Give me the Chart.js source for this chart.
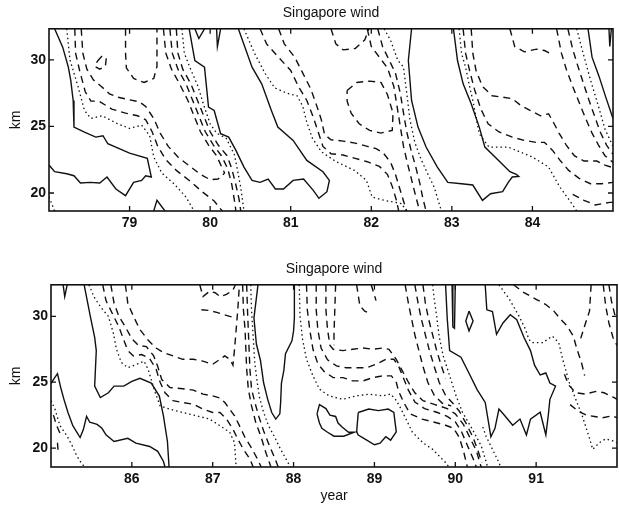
<!DOCTYPE html>
<html>
<head>
<meta charset="utf-8">
<script src="https://cdn.jsdelivr.net/npm/chart.js@4.4.0/dist/chart.umd.min.js"></script>
<style>
  html, body { margin: 0; padding: 0; background: #fff; }
  #wrap { position: relative; width: 619px; height: 505px; }
  canvas { position: absolute; left: 0; }
</style>
</head>
<body>
<div id="wrap">
  <canvas id="chart-top" width="619" height="250" style="top:0"></canvas>
  <canvas id="chart-bottom" width="619" height="255" style="top:250px"></canvas>
</div>
<script>
// tick values
const topYears = [79, 80, 81, 82, 83, 84];
const bottomYears = [86, 87, 88, 89, 90, 91];
const kmTicks = [20, 25, 30];

// contour lines, each one a list of [year, km] points
// upper panel (1978-1985)
const topSolid = [
  [[78.07,32.33],[78.17,30.95],[78.24,29.45],[78.27,28.45],[78.3,26.95],[78.31,24.95],[78.44,24.57],[78.58,24.2],[78.67,24.3],[78.73,23.7],[79.0,23.0],[79.22,22.6],[79.27,21.2],[79.2,21.3],[79.15,20.95],[79.05,20.8],[78.95,19.8],[78.83,20.3],[78.72,21.2],[78.63,20.75],[78.51,20.8],[78.39,20.75],[78.31,21.3],[78.22,21.45],[78.07,21.6],[78.0,22.1]],
  [[79.74,32.33],[79.81,29.95],[79.93,29.45],[79.98,26.45],[80.05,26.2],[80.13,24.45],[80.23,24.2],[80.32,23.2],[80.42,21.95],[80.52,20.95],[80.62,20.8],[80.72,21.05],[80.81,20.3],[80.91,20.3],[81.03,20.95],[81.16,21.05],[81.28,20.2],[81.35,19.6],[81.45,20.1],[81.48,20.95],[81.4,21.6],[81.2,22.45],[81.03,23.95],[80.84,24.95],[80.76,26.2],[80.64,28.2],[80.52,29.45],[80.35,32.33]],
  [[82.5,32.33],[82.46,29.95],[82.5,26.95],[82.58,24.95],[82.68,23.45],[82.82,21.95],[82.95,20.8],[83.12,20.7],[83.26,20.6],[83.38,19.45],[83.48,19.95],[83.63,20.1],[83.7,20.8],[83.75,21.2],[83.83,21.25],[83.8,21.4],[83.72,21.6],[83.58,22.45],[83.41,23.45],[83.34,24.95],[83.24,26.7],[83.14,28.2],[83.07,29.95],[83.02,32.33]],
  [[84.69,32.33],[84.74,30.2],[84.83,28.7],[84.91,27.2],[84.98,25.95],[85.0,25.6]],
  [[79.81,32.33],[79.86,31.6],[79.93,32.33]],
  [[80.08,32.33],[80.09,31.0],[80.13,32.33]],
  [[84.95,32.33],[84.96,31.0],[84.98,32.33]],
  [[79.3,18.65],[79.34,19.45],[79.44,18.65]]
];
const topDashed = [
  [[78.32,32.33],[78.33,30.5],[78.38,29.2],[78.45,27.6],[78.52,26.9],[78.62,26.9],[78.78,26.3],[78.95,26.0],[79.1,25.8],[79.2,25.5],[79.28,24.6],[79.35,23.5],[79.45,22.5],[79.58,21.7],[79.75,20.9],[79.9,20.1],[80.05,19.4],[80.15,18.65]],
  [[78.4,32.33],[78.42,30.5],[78.47,29.3],[78.55,28.5],[78.65,28.0],[78.75,27.45],[78.85,27.2],[79.0,27.0],[79.12,26.85],[79.2,26.5],[79.3,25.6],[79.38,24.5],[79.48,23.5],[79.6,22.7],[79.75,22.0],[79.88,21.4],[80.0,21.0],[80.1,21.05],[80.18,21.5]],
  [[78.95,32.33],[78.95,30.5],[78.96,29.4],[79.05,28.6],[79.18,28.3],[79.3,28.6],[79.34,29.5],[79.34,32.33]],
  [[78.6,29.9],[78.66,30.3],[78.71,30.1],[78.7,29.5],[78.63,29.3],[78.57,29.5],[78.6,29.9]],
  [[79.42,32.33],[79.45,30.5],[79.52,29.3],[79.62,28.2],[79.72,27.0],[79.8,25.8],[79.88,24.6],[79.98,23.6],[80.08,22.8],[80.14,22.0],[80.18,21.5]],
  [[79.5,32.33],[79.53,30.5],[79.6,29.3],[79.7,28.2],[79.78,27.0],[79.86,25.8],[79.94,24.6],[80.04,23.6],[80.14,22.8],[80.22,21.8],[80.27,20.6],[80.3,19.5],[80.32,18.65]],
  [[79.58,32.33],[79.6,30.5],[79.66,29.3],[79.76,28.2],[79.84,27.0],[79.92,25.8],[80.0,24.6],[80.1,23.6],[80.21,22.8],[80.27,21.8],[80.32,20.6],[80.36,19.5],[80.38,18.65]],
  [[80.62,32.33],[80.7,31.2],[80.81,30.45],[81.0,29.2],[81.1,27.95],[81.2,26.95],[81.28,25.7],[81.34,24.6],[81.4,23.5],[81.5,22.95],[81.65,22.85],[81.8,22.6],[81.95,22.35],[82.1,22.0],[82.2,21.4],[82.26,20.5],[82.31,19.5],[82.34,18.65]],
  [[80.85,32.33],[80.92,31.2],[81.05,30.2],[81.15,29.0],[81.25,27.8],[81.32,26.6],[81.38,25.5],[81.42,24.4],[81.5,24.0],[81.65,23.9],[81.8,23.75],[81.95,23.5],[82.06,23.33],[82.15,23.0],[82.24,22.3],[82.3,21.4],[82.35,20.4],[82.4,19.4],[82.44,18.65]],
  [[81.5,32.33],[81.56,31.2],[81.65,30.75],[81.8,30.85],[81.92,31.5],[81.97,32.33]],
  [[81.7,27.7],[81.82,28.3],[81.98,28.4],[82.12,28.3],[82.2,27.4],[82.27,26.0],[82.26,24.7],[82.12,24.5],[81.98,24.7],[81.85,25.2],[81.75,26.0],[81.7,26.9],[81.7,27.7]],
  [[81.95,32.33],[82.0,31.0],[82.1,30.2],[82.2,29.4],[82.28,28.0],[82.32,26.5],[82.36,25.0],[82.4,23.5],[82.45,22.2],[82.5,21.0],[82.55,19.8],[82.6,18.65]],
  [[82.08,32.33],[82.14,31.0],[82.22,30.0],[82.3,29.0],[82.36,27.5],[82.4,26.0],[82.44,24.6],[82.49,23.3],[82.55,22.0],[82.6,20.8],[82.64,19.6],[82.68,18.65]],
  [[83.14,32.33],[83.17,30.5],[83.22,29.2],[83.28,27.8],[83.36,26.3],[83.45,25.2],[83.58,24.6],[83.75,24.2],[83.9,23.95],[84.05,23.8],[84.15,23.8],[84.25,23.2],[84.35,22.4],[84.45,21.7],[84.58,21.1],[84.72,20.7],[84.86,20.7],[85.0,20.8]],
  [[83.24,32.33],[83.26,30.5],[83.3,29.2],[83.38,28.0],[83.5,27.3],[83.63,27.2],[83.75,27.08],[83.85,26.6],[83.97,26.2],[84.1,25.8],[84.2,25.95],[84.27,25.2],[84.33,24.5],[84.42,23.6],[84.52,22.8],[84.64,22.4],[84.8,22.4],[84.9,22.1],[85.0,21.9]],
  [[83.72,32.33],[83.78,31.0],[83.9,30.6],[84.05,30.8],[84.15,30.7],[84.25,30.4]],
  [[84.3,32.33],[84.36,30.5],[84.42,29.3],[84.5,28.0],[84.58,26.8],[84.66,25.6],[84.74,24.5],[84.82,23.6],[84.9,22.8],[85.0,22.3]],
  [[84.44,32.33],[84.5,30.8],[84.56,29.6],[84.63,28.3],[84.7,27.0],[84.77,25.8],[84.84,24.6],[84.92,23.6],[85.0,22.9]],
  [[84.5,19.9],[84.64,19.45],[84.78,19.1],[84.96,19.3],[85.0,19.3]]
];
const topDotted = [
  [[78.0,19.7],[78.07,18.65]],
  [[78.22,32.33],[78.26,30.0],[78.36,28.0],[78.44,26.2],[78.52,25.6],[78.66,25.8],[78.85,25.2],[79.0,24.85],[79.15,25.1],[79.25,24.3],[79.3,22.7],[79.4,21.5],[79.55,20.7],[79.7,19.7],[79.8,18.65]],
  [[79.65,32.33],[79.68,30.5],[79.75,29.4],[79.85,28.0],[79.92,26.6],[80.0,25.2],[80.08,24.5],[80.2,24.1],[80.3,22.9],[80.34,21.7],[80.38,20.4],[80.42,18.65]],
  [[80.42,32.33],[80.55,30.5],[80.68,29.0],[80.8,27.9],[80.95,27.5],[81.08,27.3],[81.15,26.5],[81.2,25.3],[81.27,24.1],[81.38,23.1],[81.55,22.4],[81.79,21.7],[81.94,20.95],[82.01,19.7],[82.16,19.45],[82.38,19.2],[82.43,18.65]],
  [[82.16,32.33],[82.24,31.45],[82.33,29.95],[82.4,29.45],[82.44,27.5],[82.48,25.5],[82.54,23.8],[82.62,22.5],[82.7,21.45],[82.78,20.45],[82.87,18.65]],
  [[83.09,32.33],[83.12,30.5],[83.17,29.45],[83.22,28.0],[83.26,26.95],[83.34,24.45],[83.46,23.45],[83.7,23.45],[84.0,22.7],[84.2,21.95],[84.34,20.45],[84.49,19.2],[84.55,18.65]],
  [[84.55,32.33],[84.62,30.7],[84.72,28.5],[84.82,26.5],[84.9,24.8],[85.0,23.5]]
];

// lower panel (1985-1992)
const bottomSolid = [
  [[85.0,24.9],[85.04,25.3],[85.08,25.65],[85.12,24.6],[85.16,23.7],[85.21,22.7],[85.27,21.7],[85.36,20.8],[85.4,21.4],[85.44,22.4],[85.48,21.96],[85.57,21.8],[85.63,21.5],[85.68,21.0],[85.78,20.5],[85.95,20.74],[86.05,20.37],[86.22,20.12],[86.32,19.75],[86.39,19.0],[86.41,18.56]],
  [[85.41,32.4],[85.49,29.88],[85.54,28.4],[85.56,27.4],[85.54,24.7],[85.61,23.83],[85.71,24.2],[85.78,24.7],[85.9,24.7],[86.0,25.06],[86.1,25.3],[86.24,24.94],[86.34,23.95],[86.39,22.47],[86.44,20.5],[86.46,18.56]],
  [[85.15,32.4],[85.17,31.5],[85.2,32.4]],
  [[87.56,32.4],[87.51,29.88],[87.54,27.9],[87.59,26.67],[87.63,24.94],[87.68,23.7],[87.73,22.7],[87.78,22.2],[87.83,22.6],[87.84,23.46],[87.85,24.94],[87.88,25.9],[87.9,27.16],[87.98,28.15],[88.0,28.9],[88.01,29.88],[88.01,32.4]],
  [[88.29,22.6],[88.32,23.3],[88.4,23.0],[88.45,22.5],[88.52,22.4],[88.55,21.9],[88.6,21.6],[88.68,21.2],[88.75,21.2],[88.62,20.9],[88.5,20.9],[88.42,21.2],[88.35,21.5],[88.32,21.9],[88.29,22.6]],
  [[88.8,22.7],[88.93,22.96],[89.05,22.84],[89.17,22.96],[89.24,22.7],[89.27,21.23],[89.2,20.6],[89.14,20.86],[89.07,20.37],[89.0,20.25],[88.9,20.62],[88.8,20.99],[88.78,21.23],[88.8,22.7]],
  [[90.37,32.4],[90.39,30.5],[90.46,30.37],[90.51,28.64],[90.59,29.5],[90.68,30.12],[90.76,29.75],[90.85,28.4],[90.93,27.4],[90.98,26.3],[91.05,25.55],[91.12,25.7],[91.17,24.94],[91.24,24.7],[91.17,23.7],[91.15,22.47],[91.12,20.99],[91.05,22.72],[90.93,22.2],[90.88,20.99],[90.8,22.2],[90.71,21.73],[90.61,22.47],[90.54,22.96],[90.49,21.48],[90.44,20.86],[90.41,21.98],[90.37,23.46],[90.27,24.44],[90.17,25.68],[90.07,26.9],[89.93,27.4],[89.9,29.88],[89.88,32.4]],
  [[89.96,32.4],[89.97,29.2],[89.99,29.1],[90.0,32.4]],
  [[90.17,30.4],[90.22,29.65],[90.17,28.9],[90.13,29.65],[90.17,30.4]]
];
const bottomDashed = [
  [[85.03,22.5],[85.07,21.7],[85.12,21.0]],
  [[85.08,20.4],[85.09,19.6]],
  [[85.64,32.4],[85.68,31.2],[85.76,30.2],[85.84,29.2],[85.9,28.2],[85.95,27.4],[86.02,27.0],[86.12,27.1],[86.22,26.8],[86.3,26.0],[86.35,25.0],[86.41,24.2],[86.51,23.6],[86.63,23.46],[86.76,23.33],[86.88,22.95],[87.0,22.7],[87.09,22.7],[87.17,22.2],[87.25,21.44],[87.31,20.68],[87.38,19.9],[87.46,19.17],[87.5,18.56]],
  [[85.74,32.4],[85.78,31.0],[85.84,30.0],[85.92,29.2],[86.0,28.3],[86.08,27.8],[86.18,27.7],[86.27,27.0],[86.32,26.2],[86.37,25.2],[86.47,24.6],[86.63,24.5],[86.76,24.4],[86.88,24.1],[87.0,23.96],[87.09,23.8],[87.15,23.46],[87.21,22.95],[87.27,22.45],[87.33,21.7],[87.4,20.8],[87.48,20.0],[87.55,19.2],[87.6,18.56]],
  [[85.92,32.4],[85.95,31.0],[86.02,30.0],[86.1,29.0],[86.2,28.2],[86.3,27.6],[86.39,27.25],[86.51,27.0],[86.63,26.74],[86.76,26.74],[86.88,26.6],[87.0,26.36],[87.09,26.74],[87.15,27.0],[87.21,26.74],[87.25,26.3],[87.27,27.5],[87.29,29.0],[87.31,30.5],[87.33,32.4]],
  [[86.84,32.4],[86.88,31.5],[86.96,31.9],[87.03,31.8],[87.09,31.5],[87.17,31.67],[87.25,32.0],[87.28,32.4]],
  [[86.86,30.5],[86.96,30.45],[87.05,30.3],[87.13,30.15],[87.21,30.0],[87.29,29.9]],
  [[87.37,32.4],[87.38,30.5],[87.4,29.0],[87.41,27.5],[87.42,26.0],[87.44,24.5],[87.48,23.2],[87.53,22.0],[87.6,20.8],[87.66,19.6],[87.72,18.56]],
  [[87.42,32.4],[87.43,30.5],[87.44,29.0],[87.45,27.5],[87.46,26.0],[87.48,24.5],[87.52,23.5],[87.57,22.4],[87.63,21.3],[87.7,20.2],[87.77,19.2],[87.81,18.56]],
  [[88.16,32.4],[88.17,30.5],[88.2,29.0],[88.24,27.5],[88.3,26.4],[88.38,25.8],[88.49,25.35],[88.61,25.35],[88.73,25.1],[88.86,25.1],[88.98,25.35],[89.1,25.48],[89.21,25.48],[89.27,25.0],[89.3,24.3],[89.36,23.5],[89.44,22.6],[89.59,22.2],[89.73,21.98],[89.88,21.73],[89.98,21.5],[90.05,20.8],[90.1,19.8],[90.15,18.56]],
  [[88.28,32.4],[88.28,30.5],[88.3,29.0],[88.34,27.6],[88.42,26.7],[88.53,26.24],[88.65,26.1],[88.9,26.1],[89.02,26.36],[89.14,26.74],[89.24,26.74],[89.3,26.2],[89.36,25.3],[89.42,24.4],[89.5,23.5],[89.62,23.0],[89.78,22.7],[89.9,22.4],[90.0,22.0],[90.08,21.2],[90.15,20.2],[90.22,19.2],[90.26,18.56]],
  [[88.4,32.4],[88.4,30.5],[88.42,29.0],[88.45,27.8],[88.49,27.5],[88.61,27.4],[88.73,27.5],[88.86,27.6],[88.98,27.5],[89.1,27.6],[89.18,27.5],[89.27,26.74],[89.35,25.8],[89.42,25.0],[89.5,24.2],[89.6,23.6],[89.75,23.3],[89.9,23.0],[90.0,22.6],[90.1,21.8],[90.18,20.8],[90.26,19.8],[90.32,18.56]],
  [[88.52,32.4],[88.51,30.5],[88.5,28.7],[88.5,27.8]],
  [[88.78,32.4],[88.8,31.6],[88.82,30.8],[88.88,30.4],[88.95,30.2]],
  [[88.96,32.4],[88.99,31.8],[89.02,31.2]],
  [[89.38,32.4],[89.42,31.0],[89.46,29.8],[89.5,28.6],[89.55,27.4],[89.6,26.2],[89.66,25.0],[89.74,24.0],[89.84,23.4],[89.95,23.2]],
  [[89.5,32.4],[89.54,31.0],[89.58,29.8],[89.63,28.6],[89.68,27.4],[89.74,26.2],[89.8,25.0],[89.88,24.0],[89.97,23.4],[90.05,22.8],[90.14,21.8],[90.22,20.8],[90.28,19.8],[90.33,18.9]],
  [[89.6,32.4],[89.63,31.0],[89.67,29.8],[89.72,28.6],[89.77,27.4],[89.83,26.2],[89.88,25.3]],
  [[90.72,32.4],[90.85,31.8],[91.0,31.3],[91.12,30.9],[91.22,30.4],[91.3,29.8],[91.38,29.3],[91.46,28.5],[91.5,27.6],[91.56,26.5],[91.6,25.5]],
  [[91.35,25.6],[91.4,24.8],[91.49,24.2],[91.61,24.1],[91.74,24.3],[91.84,24.2],[91.96,23.84],[92.0,23.7]],
  [[91.68,32.4],[91.66,30.4],[91.59,29.1],[91.55,28.3]],
  [[91.83,32.4],[91.86,30.8],[91.9,29.5],[91.95,28.4],[92.0,27.8]],
  [[91.9,32.4],[91.93,31.2],[91.97,30.2],[92.0,29.7]],
  [[91.42,23.3],[91.52,22.8],[91.62,22.5],[91.72,22.4],[91.82,22.3],[91.94,22.45],[92.0,22.3]]
];
const bottomDotted = [
  [[85.0,23.6],[85.05,22.95],[85.11,21.7],[85.2,20.9],[85.26,20.2],[85.32,19.4],[85.38,18.8],[85.42,18.56]],
  [[85.47,32.4],[85.53,31.5],[85.62,30.66],[85.71,30.0],[85.77,28.76],[85.81,27.5],[85.87,26.5],[85.95,26.1],[86.06,26.36],[86.15,26.6],[86.2,26.0],[86.24,25.2],[86.29,24.2],[86.35,23.2],[86.47,22.95],[86.63,22.7],[86.8,22.45],[86.96,22.2],[87.09,21.7],[87.21,21.2],[87.27,20.4],[87.28,19.4],[87.29,18.56]],
  [[87.47,32.4],[87.48,30.5],[87.5,28.5],[87.52,26.5],[87.55,25.0],[87.58,23.8],[87.63,22.7],[87.69,21.7],[87.76,20.9],[87.84,19.9],[87.93,18.9],[87.96,18.56]],
  [[88.07,32.4],[88.08,30.0],[88.11,28.3],[88.16,26.74],[88.24,25.48],[88.32,24.47],[88.44,23.96],[88.61,23.7],[88.77,23.96],[88.94,24.09],[89.1,23.96],[89.2,24.1],[89.26,23.7],[89.31,23.2],[89.39,22.2],[89.47,21.2],[89.6,20.4],[89.72,19.9],[89.8,19.4],[89.88,18.9],[89.92,18.56]],
  [[89.72,32.4],[89.74,31.3],[89.77,30.0],[89.8,28.5],[89.85,27.0],[89.93,25.5],[90.01,23.96],[90.09,22.7],[90.21,21.44],[90.32,20.18],[90.4,18.56]],
  [[90.34,21.6],[90.38,20.9],[90.46,19.9],[90.54,18.9],[90.56,18.56]],
  [[90.54,32.4],[90.67,31.3],[90.79,30.0],[90.87,29.0],[90.91,28.26],[90.95,28.0],[91.08,28.0],[91.2,28.5],[91.28,28.0],[91.33,26.7],[91.41,24.97],[91.49,23.7],[91.57,22.45],[91.65,20.93],[91.7,19.9],[91.78,20.4],[91.86,20.7],[91.94,20.56],[92.0,20.4]]
];

const fontFamily = '"Liberation Sans", Arial, Helvetica, sans-serif';
const ink = '#111';

// box round the plot with inward ticks on every side, like the original
const framePlugin = {
  id: 'frame',
  afterDatasetsDraw(chart) {
    const { ctx, chartArea: a, scales: { x, y } } = chart;
    ctx.save();
    ctx.strokeStyle = ink;
    ctx.setLineDash([]);
    ctx.lineWidth = 1.6;
    ctx.strokeRect(a.left, a.top, a.right - a.left, a.bottom - a.top);
    ctx.lineWidth = 1.3;
    ctx.beginPath();
    x.ticks.forEach(t => {
      const px = x.getPixelForValue(t.value);
      ctx.moveTo(px, a.bottom); ctx.lineTo(px, a.bottom - 5);
      ctx.moveTo(px, a.top); ctx.lineTo(px, a.top + 5);
    });
    y.ticks.forEach(t => {
      const py = y.getPixelForValue(t.value);
      ctx.moveTo(a.left, py); ctx.lineTo(a.left + 5, py);
      ctx.moveTo(a.right, py); ctx.lineTo(a.right - 5, py);
    });
    ctx.stroke();
    ctx.restore();
  }
};

function makeDatasets(solid, dashed, dotted) {
  const sets = [];
  const add = (lines, dash, width) => lines.forEach(line => sets.push({
    data: line.map(p => ({ x: p[0], y: p[1] })),
    showLine: true,
    borderColor: ink,
    borderWidth: width,
    borderDash: dash,
    pointRadius: 0,
    fill: false,
    tension: 0
  }));
  add(solid, [], 1.4);
  add(dashed, [7, 5], 1.4);
  add(dotted, [1.5, 3], 1.3);
  return sets;
}

function createPanel(canvasId, opts) {
  const tickFont = { family: fontFamily, size: 14, weight: 'bold' };
  const labelFont = { family: fontFamily, size: 14, weight: 'normal' };
  return new Chart(document.getElementById(canvasId), {
    type: 'scatter',
    data: { datasets: makeDatasets(opts.solid, opts.dashed, opts.dotted) },
    options: {
      responsive: false,
      animation: false,
      layout: { padding: { left: 0, right: opts.padRight, top: 0, bottom: 0 } },
      plugins: {
        legend: { display: false },
        tooltip: { enabled: false },
        title: {
          display: true,
          fullSize: false,
          text: 'Singapore wind',
          color: ink,
          font: labelFont,
          padding: { top: opts.titleTop, bottom: 7 }
        }
      },
      scales: {
        x: {
          type: 'linear',
          min: opts.xMin,
          max: opts.xMax,
          afterBuildTicks: s => { s.ticks = opts.years.map(v => ({ value: v })); },
          afterFit: s => { s.height = opts.xHeight; },
          grid: { display: false, drawTicks: false },
          border: { display: false },
          ticks: { color: ink, font: tickFont, padding: 4, maxRotation: 0 },
          title: {
            display: !!opts.xTitle,
            text: opts.xTitle || '',
            color: ink,
            font: labelFont,
            padding: { top: 0, bottom: 0 }
          }
        },
        y: {
          type: 'linear',
          min: opts.yMin,
          max: opts.yMax,
          afterBuildTicks: s => { s.ticks = kmTicks.map(v => ({ value: v })); },
          afterFit: s => { s.width = opts.yWidth; },
          grid: { display: false, drawTicks: false },
          border: { display: false },
          ticks: { color: ink, font: tickFont, padding: 3 },
          title: {
            display: true,
            text: 'km',
            color: ink,
            font: labelFont,
            padding: { top: 8, bottom: 0 }
          }
        }
      }
    },
    plugins: [framePlugin]
  });
}

createPanel('chart-top', {
  solid: topSolid, dashed: topDashed, dotted: topDotted,
  years: topYears, xMin: 78, xMax: 85, yMin: 18.65, yMax: 32.33,
  padRight: 6, titleTop: 5, xHeight: 39, yWidth: 49
});

createPanel('chart-bottom', {
  solid: bottomSolid, dashed: bottomDashed, dotted: bottomDotted,
  years: bottomYears, xMin: 85, xMax: 92, yMin: 18.56, yMax: 32.4,
  padRight: 2, titleTop: 11, xHeight: 38, yWidth: 51, xTitle: 'year'
});
</script>
</body>
</html>
